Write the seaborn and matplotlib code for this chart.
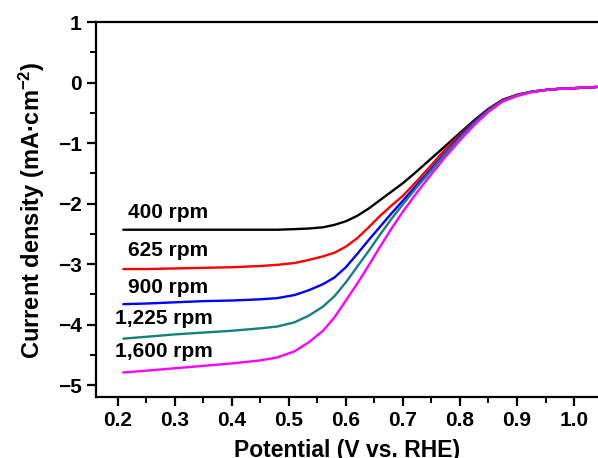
import seaborn as sns
import pandas as pd
import matplotlib.pyplot as plt

# potentials (V vs. RHE)
potential = [0.21, 0.25, 0.30, 0.35, 0.40, 0.45, 0.48, 0.51, 0.535, 0.56, 0.58,
             0.60, 0.62, 0.64, 0.66, 0.68, 0.70, 0.725, 0.75, 0.775, 0.80,
             0.825, 0.85, 0.875, 0.90, 0.925, 0.95, 0.975, 1.00, 1.04]

# current density (mA cm^-2)
j_400 = [-2.43, -2.43, -2.43, -2.43, -2.43, -2.43, -2.43, -2.42, -2.41, -2.39, -2.35,
         -2.29, -2.20, -2.08, -1.94, -1.80, -1.66, -1.46, -1.25, -1.04, -0.83,
         -0.62, -0.43, -0.28, -0.20, -0.15, -0.12, -0.10, -0.09, -0.07]
j_625 = [-3.08, -3.08, -3.07, -3.06, -3.05, -3.03, -3.01, -2.98, -2.93, -2.87, -2.81,
         -2.71, -2.57, -2.39, -2.20, -2.03, -1.87, -1.62, -1.36, -1.09, -0.86,
         -0.64, -0.44, -0.29, -0.20, -0.15, -0.12, -0.10, -0.09, -0.07]
j_900 = [-3.66, -3.65, -3.63, -3.61, -3.60, -3.58, -3.56, -3.51, -3.43, -3.33, -3.22,
         -3.05, -2.83, -2.60, -2.38, -2.16, -1.95, -1.68, -1.42, -1.15, -0.89,
         -0.65, -0.45, -0.30, -0.21, -0.15, -0.12, -0.10, -0.09, -0.07]
j_1225 = [-4.23, -4.20, -4.16, -4.13, -4.10, -4.06, -4.03, -3.96, -3.85, -3.70, -3.53,
          -3.30, -3.04, -2.78, -2.51, -2.25, -2.01, -1.72, -1.45, -1.17, -0.91,
          -0.67, -0.46, -0.30, -0.21, -0.15, -0.12, -0.10, -0.09, -0.07]
j_1600 = [-4.79, -4.76, -4.72, -4.68, -4.64, -4.59, -4.54, -4.44, -4.29, -4.10, -3.88,
          -3.60, -3.32, -3.02, -2.71, -2.41, -2.13, -1.81, -1.51, -1.22, -0.95,
          -0.70, -0.48, -0.31, -0.22, -0.16, -0.12, -0.10, -0.09, -0.07]

speeds = ['400 rpm', '625 rpm', '900 rpm', '1,225 rpm', '1,600 rpm']
colors = ['#000000', '#ff0000', '#0000ff', '#158080', '#ff00ff']
label_x = [0.218, 0.218, 0.218, 0.195, 0.195]
label_y = [-2.15, -2.77, -3.38, -3.89, -4.45]

rows = []
for name, vals in zip(speeds, [j_400, j_625, j_900, j_1225, j_1600]):
    for v, j in zip(potential, vals):
        rows.append((name, v, j))
df = pd.DataFrame(rows, columns=['speed', 'potential', 'j'])

sns.set_theme(style="ticks")
plt.rcParams['font.family'] = ['Liberation Sans', 'DejaVu Sans']
plt.rcParams['font.weight'] = 'bold'
plt.rcParams['text.color'] = 'black'
plt.rcParams['axes.labelcolor'] = 'black'
plt.rcParams['mathtext.fontset'] = 'custom'
plt.rcParams['mathtext.rm'] = 'Liberation Sans:bold'
plt.rcParams['mathtext.it'] = 'Liberation Sans:bold'
plt.rcParams['mathtext.bf'] = 'Liberation Sans:bold'

fig = plt.figure(figsize=(5.98, 4.58), dpi=100)
ax = fig.add_axes([0.1600, 0.1325, 0.8400, 0.819])

sns.lineplot(data=df, x='potential', y='j', hue='speed',
             palette=dict(zip(speeds, colors)), linewidth=1.7,
             legend=False, ax=ax)

for name, lx, ly in zip(speeds, label_x, label_y):
    ax.text(lx, ly, name, fontsize=15, fontweight='bold', color='black',
            va='center', ha='left')

ax.set_xlim(0.1616, 1.0419)
ax.set_ylim(-5.2, 1)
ax.set_xticks([0.2, 0.3, 0.4, 0.5, 0.6, 0.7, 0.8, 0.9, 1.0])
ax.set_xticks([0.25, 0.35, 0.45, 0.55, 0.65, 0.75, 0.85, 0.95], minor=True)
ax.set_yticks([-5, -4, -3, -2, -1, 0, 1])
ax.set_yticks([-4.5, -3.5, -2.5, -1.5, -0.5, 0.5], minor=True)
ax.set_xticklabels(['0.2', '0.3', '0.4', '0.5', '0.6', '0.7', '0.8', '0.9', '1.0'])
ax.set_yticklabels(['\u22125', '\u22124', '\u22123', '\u22122', '\u22121', '0', '1'])

ax.tick_params(which='major', length=6.5, width=1.6, labelsize=15, direction='out',
               color='black', labelcolor='black')
ax.tick_params(which='minor', length=4, width=1.4, direction='out', color='black')
for lab in ax.get_xticklabels() + ax.get_yticklabels():
    lab.set_fontweight('bold')

for side in ['left', 'bottom', 'top']:
    ax.spines[side].set_linewidth(1.6)
    ax.spines[side].set_color('black')
ax.spines['right'].set_visible(False)

ax.set_xlabel('Potential (V vs. RHE)', fontsize=16.5, fontweight='bold',
              color='black', labelpad=6)
ax.set_ylabel('Current density (mA\u00b7cm$^{\\mathbf{\u22122}}$)', fontsize=17,
              fontweight='bold', color='black', labelpad=8)

fig.savefig('out.png', dpi=100)
